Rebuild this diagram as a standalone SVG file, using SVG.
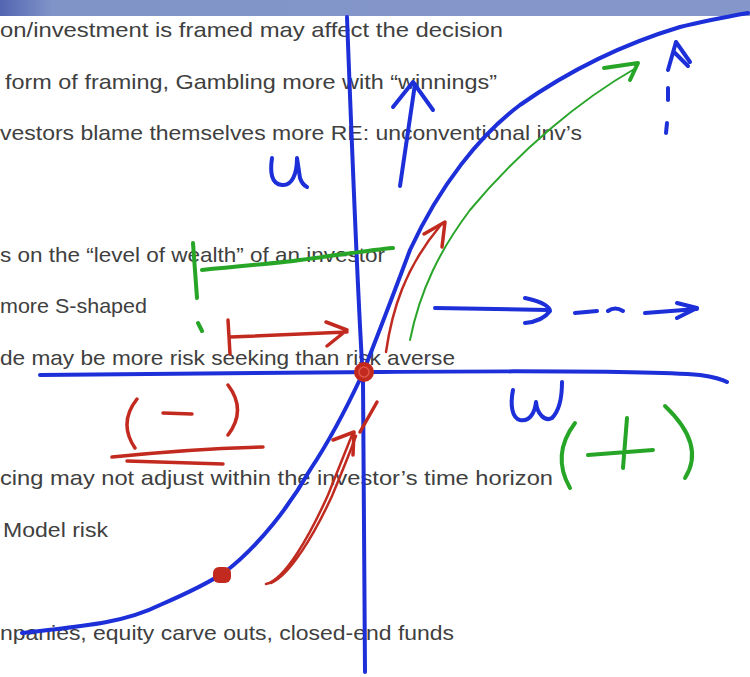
<svg xmlns="http://www.w3.org/2000/svg" width="750" height="677" viewBox="0 0 750 677">
<defs>
<linearGradient id="bar" x1="0" y1="0" x2="1" y2="0">
<stop offset="0" stop-color="#5365b0"/>
<stop offset="0.07" stop-color="#8194c8"/>
<stop offset="1" stop-color="#8597ca"/>
</linearGradient>
<style>
.t{font-family:"Liberation Sans",Arial,sans-serif;font-size:21px;fill:#404040}
.b{fill:none;stroke:#1c2fd8;stroke-width:4;stroke-linecap:round;stroke-linejoin:round}
.g{fill:none;stroke:#27a527;stroke-width:4;stroke-linecap:round;stroke-linejoin:round}
.gt{fill:none;stroke:#2aa52a;stroke-width:2;stroke-linecap:round}
.r{fill:none;stroke:#c32a1f;stroke-width:3.5;stroke-linecap:round;stroke-linejoin:round}
.rt{fill:none;stroke:#bf2b20;stroke-width:2.5;stroke-linecap:round}
</style>
</defs>
<rect width="750" height="677" fill="#ffffff"/>
<rect x="0" y="0" width="750" height="16" fill="url(#bar)"/>
<g id="text">
<text class="t" x="0" y="37" textLength="503" lengthAdjust="spacingAndGlyphs">on/investment is framed may affect the decision</text>
<text class="t" x="5" y="89" textLength="492" lengthAdjust="spacingAndGlyphs">form of framing, Gambling more with “winnings”</text>
<text class="t" x="0" y="140" textLength="582" lengthAdjust="spacingAndGlyphs">vestors blame themselves more RE: unconventional inv’s</text>
<text class="t" x="0" y="262" textLength="385" lengthAdjust="spacingAndGlyphs">s on the “level of wealth” of an investor</text>
<text class="t" x="0" y="313" textLength="147" lengthAdjust="spacingAndGlyphs">more S-shaped</text>
<text class="t" x="0" y="365" textLength="455" lengthAdjust="spacingAndGlyphs">de may be more risk seeking than risk averse</text>
<text class="t" x="0" y="485" textLength="553" lengthAdjust="spacingAndGlyphs">cing may not adjust within the investor’s time horizon</text>
<text class="t" x="3" y="537" textLength="105" lengthAdjust="spacingAndGlyphs">Model risk</text>
<text class="t" x="0" y="640" textLength="454" lengthAdjust="spacingAndGlyphs">npanies, equity carve outs, closed-end funds</text>
</g>
<g id="axes">
<path class="b" d="M347,17 C352,150 358,300 363,380 L365,672"/>
<path class="b" d="M40,375 L380,372 C500,371 650,371 700,375 Q720,378 727,382"/>
<path class="b" d="M272,158 C270,172 271,184 282,185 C292,186 297,174 297,158 L300,178 C302,184 305,186 307,187"/>
<path class="b" d="M513,390 C510,405 512,418 520,420 C530,422 535,412 536,402 C537,414 545,422 552,418 C560,410 562,395 562,382"/>
</g>
<g id="curve">
<path class="b" d="M22,633 C70,627 120,625 160,605 C190,592 210,582 225,572 C260,545 290,505 310,470 C330,440 348,405 362,375 C380,330 395,290 410,250 C440,185 480,135 520,105 C570,70 620,45 680,27 C700,22 720,18 748,13"/>
</g>
<g id="connectors">
<path class="b" d="M400,186 L415,84 M393,107 L413,82 L433,110"/>
<path class="b" d="M668,70 L676,42 L690,62 M674,52 L688,66 M668,88 L668,100 M667,123 L666,133"/>
<path class="b" d="M435,308 L548,310 M525,298 C545,302 550,308 550,311 C545,318 535,322 525,323 M575,313 L597,311 M608,311 Q615,306 623,311 M645,313 L697,309 M677,303 L697,308 L677,318"/>
<path class="gt" d="M410,340 C420,290 440,250 470,210 C520,150 580,100 636,68"/>
<path class="g" d="M604,68 L638,63 L630,80"/>
<path class="g" d="M193,243 L197,298 M202,270 C250,265 290,262 300,260 C340,255 370,250 393,248 M198,323 L202,331"/>
<path class="g" d="M575,423 Q551,455 570,488 M665,406 Q706,445 685,478 M588,455 L653,450 M627,418 L623,468"/>
<path class="rt" d="M386,352 C392,310 405,268 440,226"/>
<path class="r" d="M424,234 L445,222 L442,247"/>
<path class="rt" d="M266,584 C285,580 310,535 328,495 C338,470 346,450 352,435 M271,583 C290,575 314,535 332,496 C342,472 350,452 356,436"/>
<path class="r" d="M333,440 L354,432 L353,455 M360,432 L377,402"/>
<path class="r" d="M228,320 L230,354 M230,337 L347,332 M326,322 L347,330 L327,346"/>
<path class="r" d="M137,399 Q118,423 135,448 M163,413 L192,414 M228,385 Q247,410 228,435 M112,457 C160,452 220,448 263,447 M127,461 L223,464"/>
</g>
<g id="dots">
<circle cx="364" cy="372" r="10" fill="#c32a1f"/>
<circle cx="364" cy="372" r="5" fill="none" stroke="#e0554a" stroke-width="1.5"/>
<rect x="213" y="567" width="18" height="16" rx="6" fill="#c32a1f"/>
</g>
</svg>
